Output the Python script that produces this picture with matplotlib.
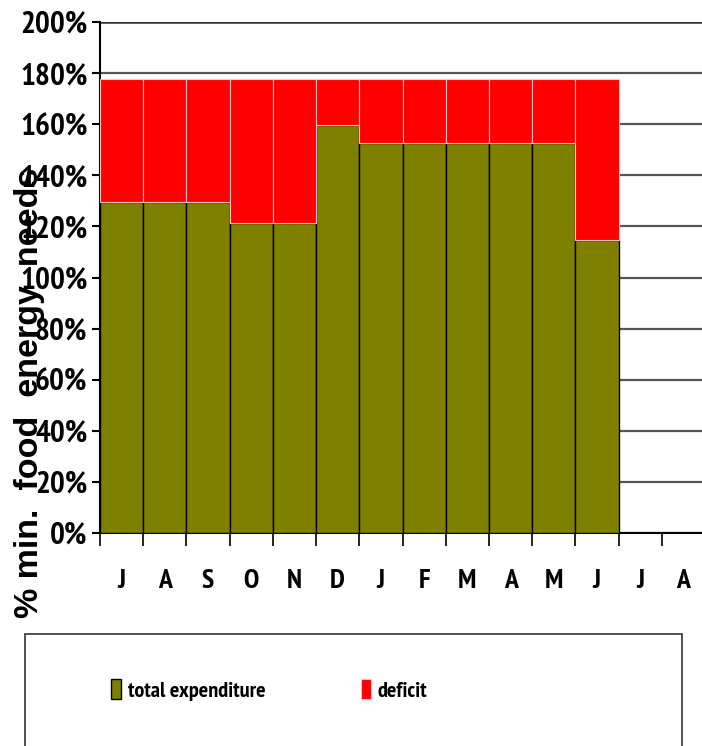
import numpy as np
import matplotlib.pyplot as plt
from matplotlib.patches import Rectangle

months = ['J', 'A', 'S', 'O', 'N', 'D', 'J', 'F', 'M', 'A', 'M', 'J', 'J', 'A']
total_expenditure = [129.5, 129.5, 129.5, 121.5, 121.5, 159.5, 152.5, 152.5, 152.5, 152.5, 152.5, 114.5]
need_level = 177.5
deficit = [need_level - v for v in total_expenditure]
yticks = [0, 20, 40, 60, 80, 100, 120, 140, 160, 180, 200]

OLIVE = '#808000'
RED = '#ff0000'
NARROW = ['Nimbus Sans Narrow', 'PT Sans Narrow', 'Archivo Narrow',
          'Roboto Condensed', 'Liberation Sans', 'DejaVu Sans']
REGULAR = ['Liberation Sans', 'DejaVu Sans']
plt.rcParams['font.family'] = NARROW
plt.rcParams['font.weight'] = 'bold'

W, H = 702, 746
fig = plt.figure(figsize=(W / 100, H / 100), dpi=100)
ax = fig.add_axes([100 / W, (H - 533) / H, 605 / W, 511 / H])

x = np.arange(len(total_expenditure))
ax.bar(x, total_expenditure, width=1.0, align='edge', color=OLIVE,
       edgecolor='black', linewidth=1.0, zorder=3, label='total expenditure')
ax.bar(x, deficit, width=1.0, align='edge', bottom=total_expenditure, color=RED,
       edgecolor='#ffc0c0', linewidth=0.8, zorder=3, label='deficit')

ax.set_xlim(0, len(months))
ax.set_ylim(0, 200)
ax.set_yticks(yticks)
ax.set_yticklabels([f'{v}%' for v in yticks], fontsize=22.5, fontweight='bold')
ax.yaxis.grid(True, color='#555555', linewidth=1.6, zorder=0)
ax.set_axisbelow(True)
ax.axhline(200, color='#333333', linewidth=1.8, zorder=1)

ax.set_xticks(np.arange(len(months) + 1))
ax.set_xticklabels([])
ax.set_xticks(np.arange(len(months)) + 0.5, minor=True)
ax.set_xticklabels(months, minor=True, fontsize=20, fontweight='bold')
ax.tick_params(axis='x', which='major', length=9, width=1.2, direction='out')
ax.tick_params(axis='x', which='minor', length=0, pad=26)
ax.tick_params(axis='y', length=6, width=1.5, direction='out', pad=3)

for s in ['top', 'right']:
    ax.spines[s].set_visible(False)
ax.spines['left'].set_linewidth(1.5)
ax.spines['bottom'].set_linewidth(1.5)

fig.text(30 / W, 1 - 393 / H, '% min.  food  energy  needs', rotation=90,
         ha='center', va='center', fontsize=24.5, fontweight='bold', family=REGULAR)

# legend box
fig.patches.append(Rectangle((25 / W, -0.02), 657 / W, 0.02 + (H - 634) / H,
                             transform=fig.transFigure, fill=False,
                             edgecolor='#333333', linewidth=1.2))
handles, labels = ax.get_legend_handles_labels()
fig.legend(handles, labels, loc='center', bbox_to_anchor=(269 / W, 1 - 690 / H),
           ncol=2, frameon=False, handlelength=0.45, handleheight=1.0,
           handletextpad=0.3, columnspacing=4.3,
           prop={'family': NARROW, 'size': 16, 'weight': 'bold'})

fig.savefig('out.png', dpi=100)
